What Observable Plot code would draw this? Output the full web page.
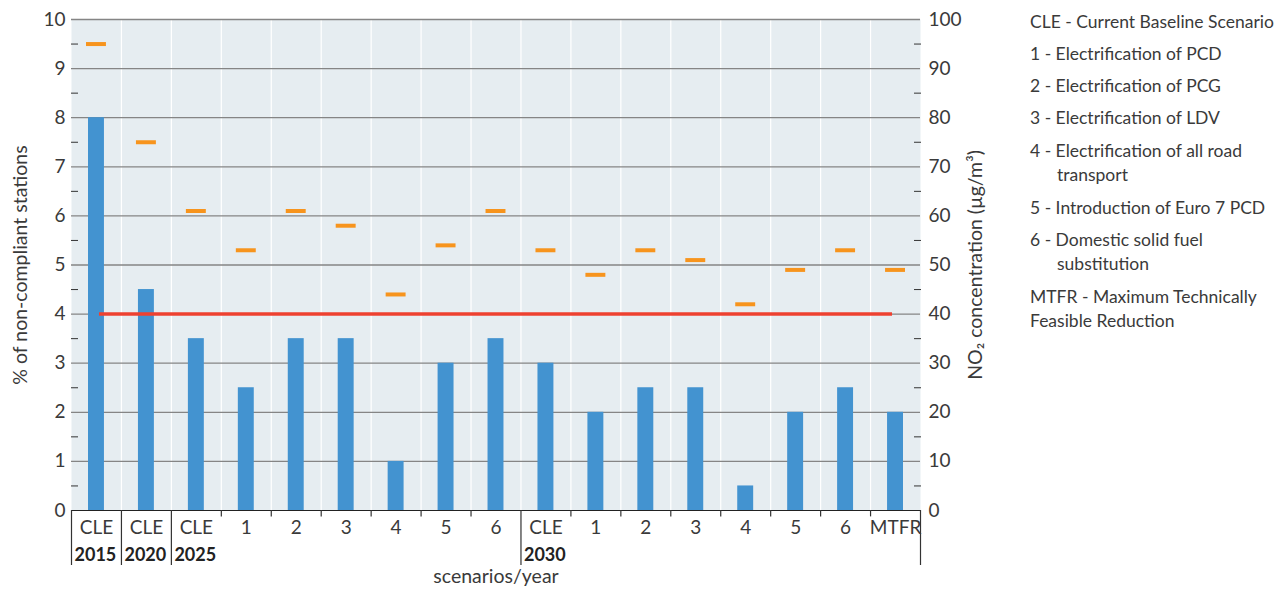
<!DOCTYPE html>
<html>
<head>
<meta charset="utf-8">
<script src="https://cdn.jsdelivr.net/npm/d3@7"></script>
<script src="https://cdn.jsdelivr.net/npm/@observablehq/plot@0.6"></script>
<style>
  body { margin: 0; background: #fff; font-family: Lato, "Open Sans", sans-serif; }
  #wrap { position: relative; width: 1282px; height: 591px; }
  #legend { position: absolute; left: 1030px; top: 0; color: #3a3a3a; font-size: 17.5px; font-weight: 400; }
  #legend div { position: absolute; white-space: nowrap; line-height: 20px; }
</style>
</head>
<body>
<div id="wrap"><div id="chart"></div><div id="legend"></div></div>
<script>
const scenarios = ["CLE","CLE","CLE","1","2","3","4","5","6","CLE","1","2","3","4","5","6","MTFR"];
const stations  = [8, 4.5, 3.5, 2.5, 3.5, 3.5, 1, 3, 3.5, 3, 2, 2.5, 2.5, 0.5, 2, 2.5, 2];
const no2       = [95, 75, 61, 53, 61, 58, 44, 54, 61, 53, 48, 53, 51, 42, 49, 53, 49];
const yearLabels = ["2015", "2020", "2025", "2030"];
const yearStarts = [0, 1, 2, 9];
const limitPct = 4;
const yTicks = d3.range(0, 11);
const yMinor = d3.range(0.5, 10, 1);
const legendLines = [
  ["CLE - Current Baseline Scenario", 0],
  ["1 - Electrification of PCD", 0],
  ["2 - Electrification of PCG", 0],
  ["3 - Electrification of LDV", 0],
  ["4 - Electrification of all road", 0],
  ["transport", 1],
  ["5 - Introduction of Euro 7 PCD", 0],
  ["6 - Domestic solid fuel", 0],
  ["substitution", 1],
  ["MTFR - Maximum Technically", 0],
  ["Feasible Reduction", 2]
];
const legendY = [22, 54, 86, 118, 151, 175, 208, 240, 264, 297, 321];

const data = scenarios.map((s, i) => ({i, scen: s, pct: stations[i], no2: no2[i]}));
const groups = yearLabels.map((y, k) => ({year: y, start: yearStarts[k]}));
const boundaries = [...yearStarts, scenarios.length];
const smallTicks = d3.range(1, scenarios.length).filter(b => !boundaries.includes(b));
const innerLines = d3.range(1, scenarios.length);

const textColor = "#3a3a3a";

const chart = Plot.plot({
  width: 1282,
  height: 591,
  marginTop: 19,
  marginBottom: 81,
  marginLeft: 71,
  marginRight: 362,
  style: {fontFamily: "Lato, 'Open Sans', sans-serif", fontSize: "19px", color: textColor, fontWeight: 400, overflow: "visible"},
  x: {type: "linear", domain: [0, scenarios.length], axis: null},
  y: {domain: [0, 10], axis: null},
  marks: [
    Plot.frame({fill: "#e6edf1", stroke: null}),
    Plot.ruleX(innerLines, {y1: 0, y2: 10, stroke: "#ffffff", strokeWidth: 1.2}),
    Plot.ruleY(yTicks.filter(d => d > 0), {stroke: "#858585", strokeWidth: 1.3}),
    Plot.axisY({anchor: "left", ticks: yMinor, tickSize: -7, tickFormat: () => "", stroke: "#333", label: null}),
    Plot.axisY({anchor: "right", ticks: yMinor, tickSize: -7, tickFormat: () => "", stroke: "#333", label: null}),
    Plot.axisY({anchor: "left", ticks: yTicks, tickSize: 0, tickPadding: 6, fontSize: 19, fill: textColor, label: null}),
    Plot.axisY({anchor: "right", ticks: yTicks, tickSize: 0, tickPadding: 8, fontSize: 19, fill: textColor, tickFormat: d => d * 10, label: null}),
    Plot.rectY(data, {x1: d => d.i, x2: d => d.i + 1, y1: 0, y2: "pct", fill: "#4393d0", insetLeft: 17, insetRight: 17}),
    Plot.ruleY([limitPct], {x1: 0.5, x2: scenarios.length - 0.5, stroke: "#ee4130", strokeWidth: 3.5, insetLeft: 3, insetRight: 3}),
    Plot.ruleY(data, {x1: d => d.i, x2: d => d.i + 1, y: d => d.no2 / 10, stroke: "#f7941d", strokeWidth: 4, insetLeft: 15, insetRight: 15}),
    Plot.ruleY([0], {x1: 0, x2: scenarios.length, stroke: "#222", strokeWidth: 1.2}),
    Plot.ruleX(smallTicks, {y1: 0, y2: -0.13, stroke: "#333", strokeWidth: 1.2}),
    Plot.ruleX(boundaries, {y1: 0, y2: -1.12, stroke: "#333", strokeWidth: 1.2}),
    Plot.text(data, {x: d => d.i + 0.5, y: 0, text: "scen", dy: 17, fontSize: 19, fill: textColor}),
    Plot.text(groups, {x: "start", y: 0, text: "year", dy: 45, dx: 3, textAnchor: "start", fontSize: 18, fontWeight: 700, fill: "#222"}),
    Plot.text(["scenarios/year"], {frameAnchor: "bottom", dy: 72, textAnchor: "middle", fontSize: 19.5, fill: textColor}),
    Plot.text(["% of non-compliant stations"], {frameAnchor: "left", dx: -51, rotate: -90, textAnchor: "middle", fontSize: 19.5, fill: textColor}),
    Plot.text(["NO₂ concentration (µg/m³)"], {frameAnchor: "right", dx: 55, rotate: -90, textAnchor: "middle", fontSize: 19.5, fill: textColor})
  ]
});
document.getElementById("chart").appendChild(chart);

const legend = document.getElementById("legend");
legendLines.forEach(([t, indent], k) => {
  const div = document.createElement("div");
  div.textContent = t;
  div.style.top = (legendY[k] - 10) + "px";
  div.style.left = (indent === 1 ? 27 : 0) + "px";
  legend.appendChild(div);
});
</script>
</body>
</html>
